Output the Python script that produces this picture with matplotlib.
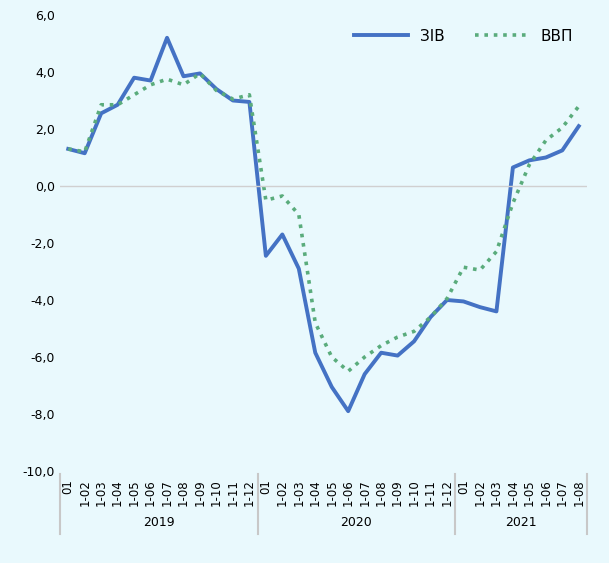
import numpy as np
import matplotlib.pyplot as plt

# --- дані ---
years = ['2019', '2020', '2021']
months_per_year = [12, 12, 8]
ziv = [1.3, 1.15, 2.55, 2.85, 3.8, 3.7, 5.2, 3.85, 3.95, 3.4, 3.0, 2.95,
       -2.45, -1.7, -2.9, -5.85, -7.05, -7.9, -6.6, -5.85, -5.95, -5.45, -4.6, -4.0,
       -4.05, -4.25, -4.4, 0.65, 0.9, 1.0, 1.25, 2.1]
vvp = [1.3, 1.2, 2.85, 2.85, 3.2, 3.55, 3.75, 3.55, 3.95, 3.35, 3.05, 3.2,
       -0.5, -0.35, -1.0, -4.8, -6.0, -6.5, -6.0, -5.6, -5.3, -5.1, -4.6, -3.95,
       -2.85, -2.95, -2.3, -0.6, 0.75, 1.6, 2.05, 2.8]
yticks = [-10, -8, -6, -4, -2, 0, 2, 4, 6]

labels = []
for n in months_per_year:
    labels += ['01'] + ['1-%02d' % m for m in range(2, n + 1)]

bg = '#e9f9fd'
fig = plt.figure(figsize=(6.09, 5.63), dpi=100, facecolor=bg)
ax = fig.add_axes([60/609, 92/563, 527/609, 456/563], facecolor=bg)
x = np.arange(len(ziv))
ax.plot(x, ziv, color='#4472c4', lw=2.8, label='ЗІВ')
ax.plot(x, vvp, color='#5aac7c', lw=2.6, ls=(0, (1, 1.6)), label='ВВП')
ax.axhline(0, color='#d0d0d0', lw=1)

ax.set_xlim(-0.5, len(ziv) - 0.5)
ax.set_ylim(-10, 6)
ax.set_yticks(yticks)
ax.set_yticklabels([('%.1f' % v).replace('.', ',') for v in yticks])
ax.set_xticks(x)
ax.set_xticklabels(labels, rotation=90)
ax.tick_params(length=0, labelsize=9)
ax.tick_params(axis='x', labelsize=8.5, pad=6)
for s in ax.spines.values():
    s.set_visible(False)

# роздільники років та підписи
start = 0
for yr, n in zip(years, months_per_year):
    xb = start - 0.5
    ax.plot([xb, xb], [-10.1, -12.2], color='#c8c8c8', lw=1.5, clip_on=False)
    ax.text(start + (n - 1) / 2, -11.8, yr, ha='center', va='center', fontsize=9)
    start += n
ax.plot([start - 0.5] * 2, [-10.1, -12.2], color='#c8c8c8', lw=1.5, clip_on=False)

ax.legend(loc='upper right', frameon=False, ncol=2, fontsize=11,
          handlelength=3.5, bbox_to_anchor=(1.0, 1.0))
fig.savefig('out.png', dpi=100, facecolor=bg)
